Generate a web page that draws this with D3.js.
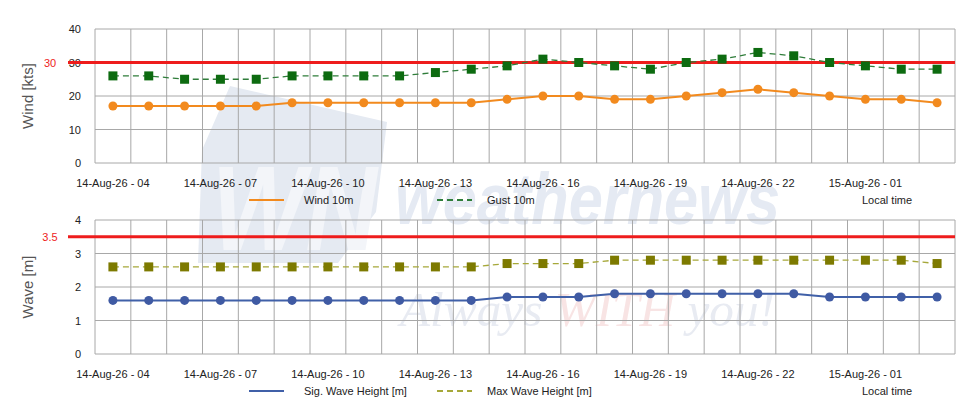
<!DOCTYPE html>
<html>
<head>
<meta charset="utf-8">
<script src="https://cdn.jsdelivr.net/npm/d3@7"></script>
<style>
  body { margin: 0; background: #fff; }
  text { font-family: "Liberation Sans", Arial, sans-serif; }
</style>
</head>
<body>
<div id="chart"></div>
<script>
const width = 980;
const height = 420;

// data //////////////////////////////
const times = [
  "14-Aug-26 - 04", "14-Aug-26 - 05", "14-Aug-26 - 06", "14-Aug-26 - 07",
  "14-Aug-26 - 08", "14-Aug-26 - 09", "14-Aug-26 - 10", "14-Aug-26 - 11",
  "14-Aug-26 - 12", "14-Aug-26 - 13", "14-Aug-26 - 14", "14-Aug-26 - 15",
  "14-Aug-26 - 16", "14-Aug-26 - 17", "14-Aug-26 - 18", "14-Aug-26 - 19",
  "14-Aug-26 - 20", "14-Aug-26 - 21", "14-Aug-26 - 22", "14-Aug-26 - 23",
  "15-Aug-26 - 00", "15-Aug-26 - 01", "15-Aug-26 - 02", "15-Aug-26 - 03"
];
const wind10m = [17, 17, 17, 17, 17, 18, 18, 18, 18, 18, 18, 19, 20, 20, 19, 19, 20, 21, 22, 21, 20, 19, 19, 18];
const gust10m = [26, 26, 25, 25, 25, 26, 26, 26, 26, 27, 28, 29, 31, 30, 29, 28, 30, 31, 33, 32, 30, 29, 28, 28];
const sigWave = [1.6, 1.6, 1.6, 1.6, 1.6, 1.6, 1.6, 1.6, 1.6, 1.6, 1.6, 1.7, 1.7, 1.7, 1.8, 1.8, 1.8, 1.8, 1.8, 1.8, 1.7, 1.7, 1.7, 1.7];
const maxWave = [2.6, 2.6, 2.6, 2.6, 2.6, 2.6, 2.6, 2.6, 2.6, 2.6, 2.6, 2.7, 2.7, 2.7, 2.8, 2.8, 2.8, 2.8, 2.8, 2.8, 2.8, 2.8, 2.8, 2.7];
const windTicks = [0, 10, 20, 30, 40];
const waveTicks = [0, 1, 2, 3, 4];
const windLimit = 30;
const waveLimit = 3.5;

// colours
const gridColor = "#a8a8a8";
const limitColor = "#ee1c1c";

const svg = d3
  .select("#chart")
  .append("svg")
  .attr("width", width)
  .attr("height", height)
  .style("display", "block");

// watermark /////////////////////////
const mark = svg.append("g");
mark
  .append("polygon")
  .attr("points", "230,86 387,122 376,212 338,263 198,263 202,150")
  .style("fill", "#e5eaf2");
mark
  .append("text")
  .attr("x", 212)
  .attr("y", 250)
  .attr("textLength", 165)
  .attr("lengthAdjust", "spacingAndGlyphs")
  .style("font-size", "120px")
  .style("font-weight", "bold")
  .style("font-style", "italic")
  .style("fill", "#f3f5f9")
  .text("WN");
mark
  .append("text")
  .attr("x", 395)
  .attr("y", 224)
  .attr("textLength", 385)
  .attr("lengthAdjust", "spacingAndGlyphs")
  .style("font-size", "72px")
  .style("font-weight", "bold")
  .style("font-style", "italic")
  .style("fill", "#e5eaf3")
  .text("weathernews");
const tagline = mark
  .append("text")
  .attr("x", 400)
  .attr("y", 326)
  .attr("textLength", 375)
  .attr("lengthAdjust", "spacingAndGlyphs")
  .style("font-family", "'Liberation Serif', serif")
  .style("font-size", "48px")
  .style("font-style", "italic");
tagline.append("tspan").style("fill", "#e8ebf2").text("Always ");
tagline.append("tspan").style("fill", "#f8e4e4").text("WITH");
tagline.append("tspan").style("fill", "#e8ebf2").text(" you!");

// scales ////////////////////////////
const x = d3.scaleBand().domain(times).range([95, 955]).padding(0);
const cx = d => x(d) + x.bandwidth() / 2;

const panels = [
  {
    title: "Wind [kts]",
    y: d3.scaleLinear().domain([0, 40]).range([163, 29]),
    ticks: windTicks,
    limit: windLimit,
    limitLabel: "30",
    series: [
      { name: "Wind 10m", values: wind10m, line: "#f28a1e", marker: "#f28a1e", shape: "circle", dash: null },
      { name: "Gust 10m", values: gust10m, line: "#2f7d3a", marker: "#0d6b10", shape: "square", dash: "6,4" }
    ]
  },
  {
    title: "Wave [m]",
    y: d3.scaleLinear().domain([0, 4]).range([354, 220]),
    ticks: waveTicks,
    limit: waveLimit,
    limitLabel: "3.5",
    series: [
      { name: "Sig. Wave Height [m]", values: sigWave, line: "#4060a8", marker: "#3f5aa3", shape: "circle", dash: null },
      { name: "Max Wave Height [m]", values: maxWave, line: "#a6a83a", marker: "#7d7a00", shape: "square", dash: "6,4" }
    ]
  }
];

const drawPanel = panel => {
  const y = panel.y;
  const g = svg.append("g");
  const [bottom, top] = y.range();

  // horizontal grid
  g.selectAll(".hgrid")
    .data(panel.ticks)
    .enter()
    .append("line")
    .attr("x1", x.range()[0])
    .attr("x2", x.range()[1])
    .attr("y1", d => y(d))
    .attr("y2", d => y(d))
    .style("stroke", gridColor)
    .style("stroke-width", 1);

  // vertical grid
  const edges = times.map(t => x(t)).concat([x.range()[1]]);
  g.selectAll(".vgrid")
    .data(edges)
    .enter()
    .append("line")
    .attr("x1", d => d)
    .attr("x2", d => d)
    .attr("y1", top)
    .attr("y2", bottom)
    .style("stroke", gridColor)
    .style("stroke-width", 1);

  // y tick labels
  g.selectAll(".ytick")
    .data(panel.ticks)
    .enter()
    .append("text")
    .attr("x", 81)
    .attr("y", d => y(d) + 4)
    .attr("text-anchor", "end")
    .style("font-size", "11px")
    .style("fill", "#222")
    .text(d => d);

  // x tick labels, every 3rd hour
  g.selectAll(".xtick")
    .data(times.filter((t, i) => i % 3 === 0))
    .enter()
    .append("text")
    .attr("x", d => cx(d))
    .attr("y", bottom + 24)
    .attr("text-anchor", "middle")
    .style("font-size", "11px")
    .style("fill", "#222")
    .text(d => d);

  // axis title
  g.append("text")
    .attr("transform", `translate(33,${(top + bottom) / 2}) rotate(-90)`)
    .attr("text-anchor", "middle")
    .style("font-size", "15px")
    .style("fill", "#555")
    .text(panel.title);

  // limit line
  g.append("line")
    .attr("x1", 68)
    .attr("x2", x.range()[1])
    .attr("y1", y(panel.limit))
    .attr("y2", y(panel.limit))
    .style("stroke", limitColor)
    .style("stroke-width", 3);
  g.append("text")
    .attr("x", 50)
    .attr("y", y(panel.limit) + 4)
    .attr("text-anchor", "middle")
    .style("font-size", "11px")
    .style("fill", limitColor)
    .text(panel.limitLabel);

  // series
  const line = d3
    .line()
    .x((d, i) => cx(times[i]))
    .y(d => y(d));

  panel.series.forEach(s => {
    g.append("path")
      .datum(s.values)
      .attr("d", line)
      .style("fill", "none")
      .style("stroke", s.line)
      .style("stroke-width", s.dash ? 1.3 : 2)
      .style("stroke-dasharray", s.dash);

    if (s.shape === "circle") {
      g.selectAll(".pt")
        .data(s.values)
        .enter()
        .append("circle")
        .attr("cx", (d, i) => cx(times[i]))
        .attr("cy", d => y(d))
        .attr("r", 4.5)
        .style("fill", s.marker);
    } else {
      g.selectAll(".pt")
        .data(s.values)
        .enter()
        .append("rect")
        .attr("x", (d, i) => cx(times[i]) - 4.5)
        .attr("y", d => y(d) - 4.5)
        .attr("width", 9)
        .attr("height", 9)
        .style("fill", s.marker);
    }
  });

  // legend
  const ly = bottom + 37;
  const legendPos = [249, 437];
  panel.series.forEach((s, i) => {
    g.append("line")
      .attr("x1", legendPos[i])
      .attr("x2", legendPos[i] + 35)
      .attr("y1", ly)
      .attr("y2", ly)
      .style("stroke", s.line)
      .style("stroke-width", 2)
      .style("stroke-dasharray", s.dash);
    g.append("text")
      .attr("x", legendPos[i] + (i === 0 ? 55 : 50))
      .attr("y", ly + 4)
      .style("font-size", "11px")
      .style("fill", "#222")
      .text(s.name);
  });
  g.append("text")
    .attr("x", 862)
    .attr("y", ly + 4)
    .style("font-size", "11px")
    .style("fill", "#222")
    .text("Local time");
};

panels.forEach(panel => drawPanel(panel));
</script>
</body>
</html>
